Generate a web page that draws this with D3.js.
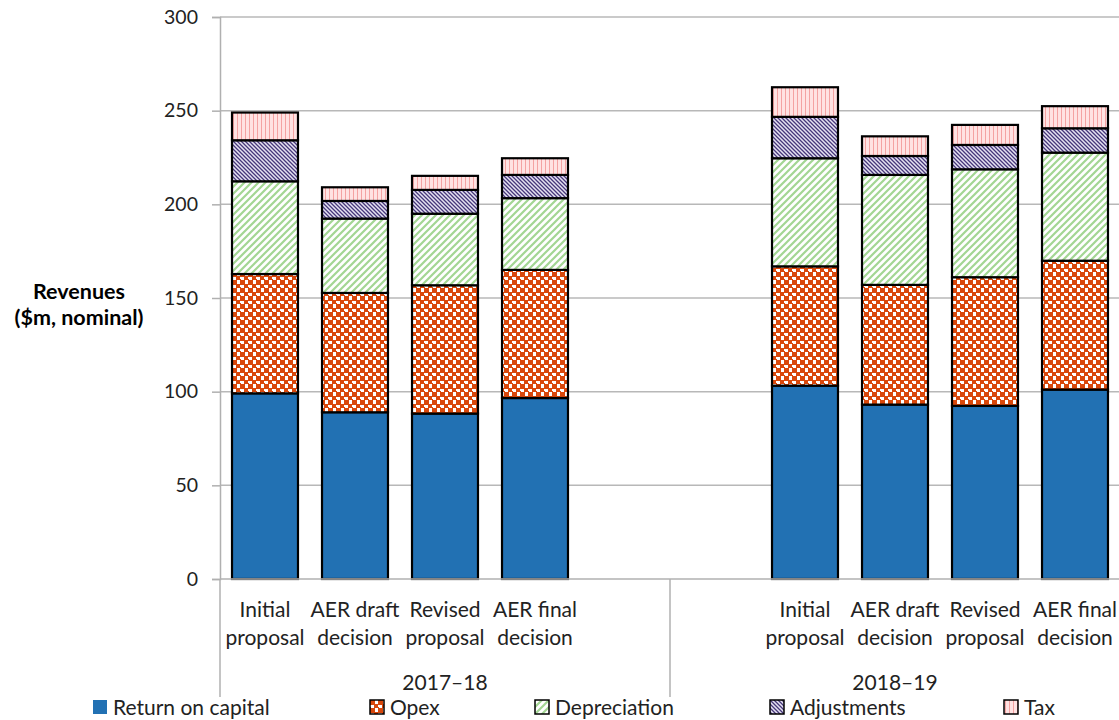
<!DOCTYPE html>
<html>
<head>
<meta charset="utf-8">
<script src="https://cdn.jsdelivr.net/npm/d3@7"></script>
<style>
  body { margin: 0; background: #fff; }
  svg { display: block; font-family: Lato, "Noto Sans", sans-serif; }
</style>
</head>
<body>
<div id="chart"></div>
<script>
// data ($m, nominal)
var years = ["2017–18", "2018–19"];
var stages = ["Initial proposal", "AER draft decision", "Revised proposal", "AER final decision"];
var seriesNames = ["Return on capital", "Opex", "Depreciation", "Adjustments", "Tax"];

var returnOnCapital = [99.1, 89.0, 88.3, 96.6, 103.2, 93.1, 92.4, 101.1];
var opex = [63.7, 63.7, 68.5, 68.4, 63.7, 63.9, 68.7, 68.8];
var depreciation = [49.5, 39.7, 38.2, 38.3, 57.7, 58.7, 57.6, 57.7];
var adjustments = [21.9, 9.4, 12.7, 12.4, 22.1, 10.1, 13.0, 13.0];
var tax = [14.8, 7.3, 7.5, 8.9, 15.8, 10.5, 10.7, 11.8];

var yTicks = [0, 50, 100, 150, 200, 250, 300];

var svgWidth = 1119;
var svgHeight = 720;

var svg = d3.select("#chart")
  .append("svg")
  .attr("width", svgWidth)
  .attr("height", svgHeight);

// patterns for the series fills
var defs = svg.append("defs");

var pOpex = defs.append("pattern").attr("id", "p-opex")
  .attr("patternUnits", "userSpaceOnUse").attr("width", 8).attr("height", 8);
pOpex.append("rect").attr("width", 8).attr("height", 8).attr("fill", "#fff");
pOpex.append("rect").attr("width", 5).attr("height", 5).attr("fill", "#d9480c");
pOpex.append("rect").attr("x", 4).attr("y", 4).attr("width", 5).attr("height", 5).attr("fill", "#d9480c");
pOpex.append("rect").attr("x", -1).attr("y", 7).attr("width", 2).attr("height", 2).attr("fill", "#d9480c");

var pDep = defs.append("pattern").attr("id", "p-dep")
  .attr("patternUnits", "userSpaceOnUse").attr("width", 7).attr("height", 7);
pDep.append("rect").attr("width", 7).attr("height", 7).attr("fill", "#fff");
pDep.append("path").attr("d", "M-1,8 L8,-1 M-4,4 L4,-4 M3,11 L11,3")
  .attr("stroke", "#a3d693").attr("stroke-width", 2.2);

var pAdj = defs.append("pattern").attr("id", "p-adj")
  .attr("patternUnits", "userSpaceOnUse").attr("width", 4).attr("height", 4);
pAdj.append("rect").attr("width", 4).attr("height", 4).attr("fill", "#e6e2f2");
pAdj.append("path").attr("d", "M-1,-1 L5,5 M-3,1 L1,5 M3,-1 L5,1")
  .attr("stroke", "#46377a").attr("stroke-width", 1.3);

var pTax = defs.append("pattern").attr("id", "p-tax")
  .attr("patternUnits", "userSpaceOnUse").attr("width", 4).attr("height", 4);
pTax.append("rect").attr("width", 4).attr("height", 4).attr("fill", "#ffe2e2");
pTax.append("rect").attr("x", 1).attr("width", 1).attr("height", 4).attr("fill", "#f4a2a2");

var fills = ["#2271b3", "url(#p-opex)", "url(#p-dep)", "url(#p-adj)", "url(#p-tax)"];

// slots: 4 stages per year, with an empty slot on the inside of each year
var slots = [];
years.forEach(function(yr, i) {
  if (i === 1) slots.push(yr + "|gap");
  stages.forEach(function(s) { slots.push(yr + "|" + s); });
  if (i === 0) slots.push(yr + "|gap");
});

var xScale = d3.scaleBand()
  .domain(slots)
  .range([220, 1120])
  .paddingInner(0.267)
  .paddingOuter(0.1335);

var yScale = d3.scaleLinear()
  .domain([0, 300])
  .range([579, 17]);

// gridlines
svg.append("g")
  .selectAll("line")
  .data(yTicks.slice(1))
  .enter()
  .append("line")
  .attr("x1", 220).attr("x2", 1119)
  .attr("y1", d => yScale(d)).attr("y2", d => yScale(d))
  .attr("stroke", "#b8b8b8").attr("stroke-width", 1.5);

// y axis
var yAxis = d3.axisLeft(yScale).tickValues(yTicks).tickSize(8).tickPadding(14);
var yG = svg.append("g").attr("transform", "translate(220,0)").call(yAxis);
yG.select(".domain").attr("stroke", "#b0b0b0").attr("stroke-width", 1.5);
yG.selectAll(".tick line").attr("stroke", "#b0b0b0").attr("stroke-width", 1.5);
yG.selectAll(".tick text")
  .attr("font-family", "Lato, sans-serif")
  .attr("font-size", 19.5)
  .attr("fill", "#222");

// stacked data
var rows = [];
var k = 0;
years.forEach(function(yr) {
  stages.forEach(function(s) {
    rows.push({
      key: yr + "|" + s,
      "Return on capital": returnOnCapital[k],
      "Opex": opex[k],
      "Depreciation": depreciation[k],
      "Adjustments": adjustments[k],
      "Tax": tax[k]
    });
    k++;
  });
});

var stacked = d3.stack().keys(seriesNames)(rows);

var layers = svg.append("g")
  .selectAll("g")
  .data(stacked)
  .enter()
  .append("g")
  .attr("fill", (d, i) => fills[i]);

layers.selectAll("rect")
  .data(d => d)
  .enter()
  .append("rect")
  .attr("x", d => xScale(d.data.key))
  .attr("width", xScale.bandwidth())
  .attr("y", d => yScale(d[1]))
  .attr("height", d => yScale(d[0]) - yScale(d[1]))
  .attr("stroke", "#000")
  .attr("stroke-width", 2.2);

// category axis
svg.append("line")
  .attr("x1", 220).attr("x2", 1119)
  .attr("y1", 579).attr("y2", 579)
  .attr("stroke", "#b0b0b0").attr("stroke-width", 1.5);

[220, 670, 1120].forEach(function(x) {
  svg.append("line")
    .attr("x1", x).attr("x2", x)
    .attr("y1", 579).attr("y2", 697)
    .attr("stroke", "#b0b0b0").attr("stroke-width", 1.5);
});

var catLabels = svg.append("g")
  .selectAll("text")
  .data(rows)
  .enter()
  .append("text")
  .attr("x", d => xScale(d.key) + xScale.bandwidth() / 2)
  .attr("y", 617)
  .attr("text-anchor", "middle")
  .attr("font-size", 21)
  .attr("fill", "#222");

catLabels.each(function(d) {
  var s = d.key.split("|")[1];
  var words = s.split(" ");
  var first = words.length === 3 ? words.slice(0, 2).join(" ") : words[0];
  var second = words.length === 3 ? words[2] : words[1];
  d3.select(this).append("tspan").attr("x", xScale(d.key) + xScale.bandwidth() / 2).text(first);
  d3.select(this).append("tspan").attr("x", xScale(d.key) + xScale.bandwidth() / 2).attr("dy", 28).text(second);
});

svg.append("g")
  .selectAll("text")
  .data(years)
  .enter()
  .append("text")
  .attr("x", (d, i) => i === 0 ? 445 : 895)
  .attr("y", 690)
  .attr("text-anchor", "middle")
  .attr("font-size", 21)
  .attr("fill", "#222")
  .text(d => d);

// y axis title
var yTitle = svg.append("text")
  .attr("text-anchor", "middle")
  .attr("font-size", 21.5)
  .attr("font-weight", "bold")
  .attr("fill", "#000");
yTitle.append("tspan").attr("x", 79).attr("y", 299).text("Revenues");
yTitle.append("tspan").attr("x", 79).attr("y", 325).text("($m, nominal)");

// legend
var legendX = [93, 370, 535, 770, 1004];
var legend = svg.append("g")
  .selectAll("g")
  .data(seriesNames)
  .enter()
  .append("g")
  .attr("transform", (d, i) => `translate(${legendX[i]}, 700)`);

legend.append("rect")
  .attr("width", 14).attr("height", 14)
  .attr("fill", (d, i) => fills[i])
  .attr("stroke", (d, i) => i === 0 ? "none" : "#000")
  .attr("stroke-width", 1.5);

legend.append("text")
  .attr("x", 20)
  .attr("y", 15)
  .attr("font-size", 21)
  .attr("fill", "#222")
  .text(d => d);
</script>
</body>
</html>
